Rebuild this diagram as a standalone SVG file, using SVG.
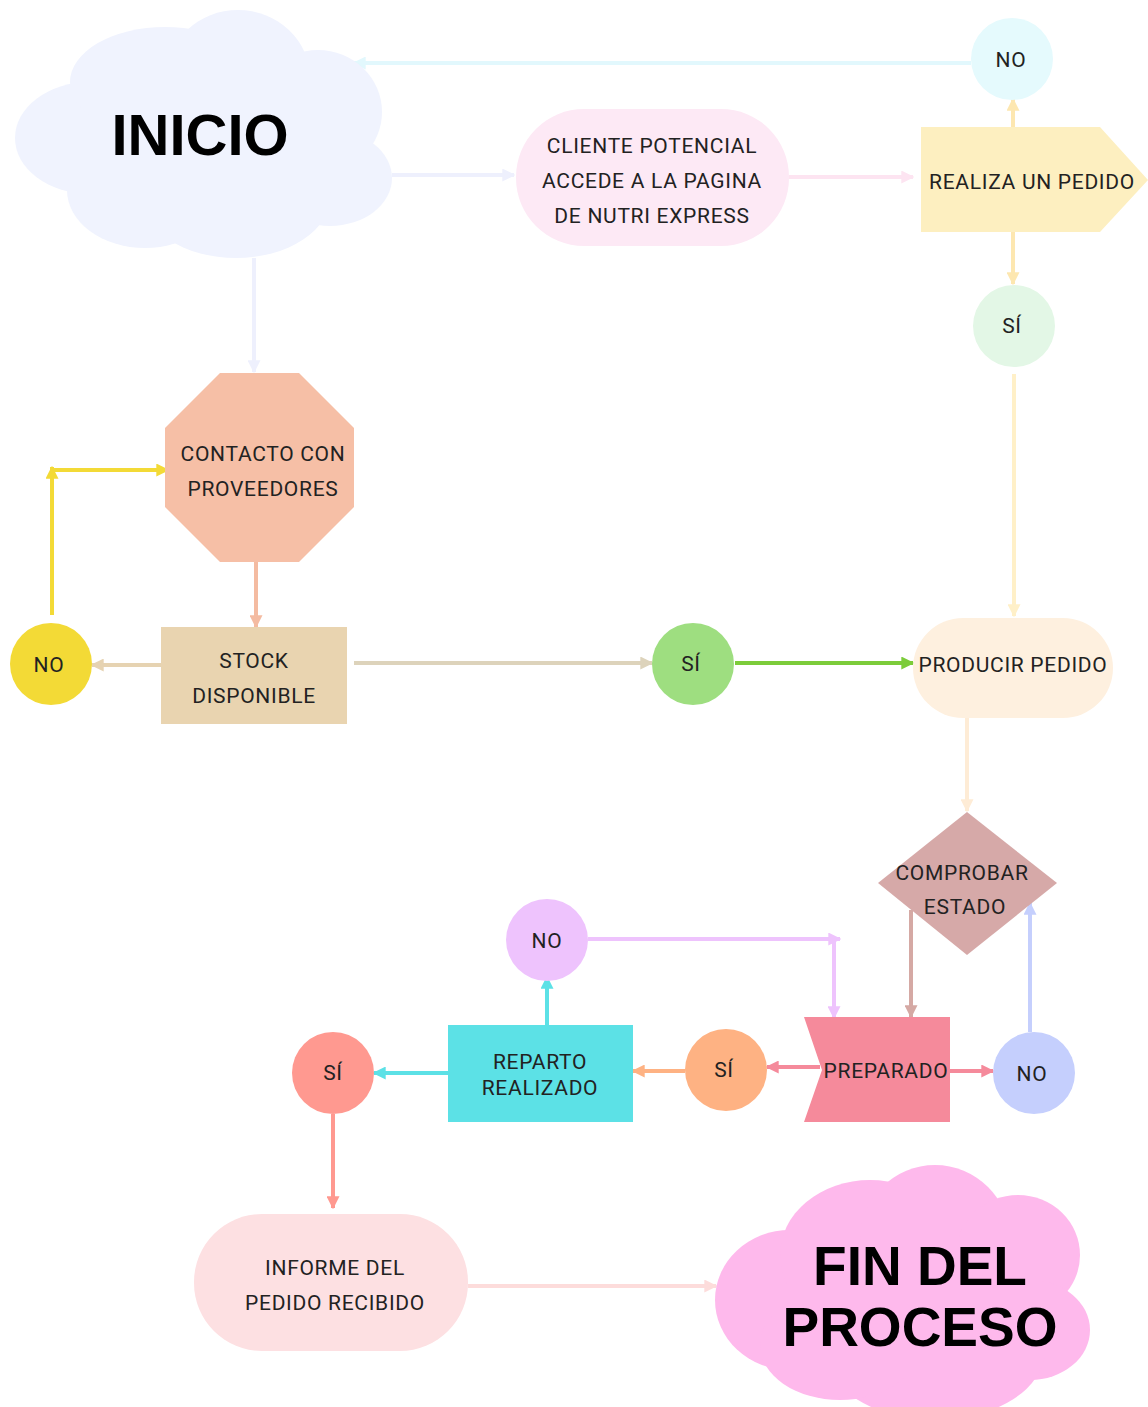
<svg xmlns="http://www.w3.org/2000/svg" width="1148" height="1407" viewBox="0 0 1148 1407">
<style>
.t{font-family:Roboto,"Liberation Sans",sans-serif;font-size:21px;letter-spacing:0.7px;fill:#222;text-anchor:middle;dominant-baseline:central}
.big{font-family:"Liberation Sans",Arial,sans-serif;font-weight:bold;fill:#000;text-anchor:middle}
.c{fill:none;stroke-width:4}
</style>
<defs>
<marker id="a1" viewBox="0 0 10 10" refX="9" refY="5" markerWidth="13" markerHeight="13" markerUnits="userSpaceOnUse" orient="auto"><path d="M0,0 L10,5 L0,10 z" fill="#eef0fd"/></marker>
<marker id="a2" viewBox="0 0 10 10" refX="9" refY="5" markerWidth="13" markerHeight="13" markerUnits="userSpaceOnUse" orient="auto"><path d="M0,0 L10,5 L0,10 z" fill="#fde4f1"/></marker>
<marker id="a3" viewBox="0 0 10 10" refX="9" refY="5" markerWidth="13" markerHeight="13" markerUnits="userSpaceOnUse" orient="auto"><path d="M0,0 L10,5 L0,10 z" fill="#fde7b0"/></marker>
<marker id="a4" viewBox="0 0 10 10" refX="9" refY="5" markerWidth="13" markerHeight="13" markerUnits="userSpaceOnUse" orient="auto"><path d="M0,0 L10,5 L0,10 z" fill="#e2f8fd"/></marker>
<marker id="a5" viewBox="0 0 10 10" refX="9" refY="5" markerWidth="13" markerHeight="13" markerUnits="userSpaceOnUse" orient="auto"><path d="M0,0 L10,5 L0,10 z" fill="#fff0c8"/></marker>
<marker id="a6" viewBox="0 0 10 10" refX="9" refY="5" markerWidth="13" markerHeight="13" markerUnits="userSpaceOnUse" orient="auto"><path d="M0,0 L10,5 L0,10 z" fill="#f4bba1"/></marker>
<marker id="a7" viewBox="0 0 10 10" refX="9" refY="5" markerWidth="13" markerHeight="13" markerUnits="userSpaceOnUse" orient="auto"><path d="M0,0 L10,5 L0,10 z" fill="#e6d3b2"/></marker>
<marker id="a8" viewBox="0 0 10 10" refX="9" refY="5" markerWidth="13" markerHeight="13" markerUnits="userSpaceOnUse" orient="auto"><path d="M0,0 L10,5 L0,10 z" fill="#f3da36"/></marker>
<marker id="a9" viewBox="0 0 10 10" refX="9" refY="5" markerWidth="13" markerHeight="13" markerUnits="userSpaceOnUse" orient="auto"><path d="M0,0 L10,5 L0,10 z" fill="#ddd3bb"/></marker>
<marker id="a10" viewBox="0 0 10 10" refX="9" refY="5" markerWidth="13" markerHeight="13" markerUnits="userSpaceOnUse" orient="auto"><path d="M0,0 L10,5 L0,10 z" fill="#7ccc3a"/></marker>
<marker id="a11" viewBox="0 0 10 10" refX="9" refY="5" markerWidth="13" markerHeight="13" markerUnits="userSpaceOnUse" orient="auto"><path d="M0,0 L10,5 L0,10 z" fill="#feecd6"/></marker>
<marker id="a12" viewBox="0 0 10 10" refX="9" refY="5" markerWidth="13" markerHeight="13" markerUnits="userSpaceOnUse" orient="auto"><path d="M0,0 L10,5 L0,10 z" fill="#d5a9a4"/></marker>
<marker id="a13" viewBox="0 0 10 10" refX="9" refY="5" markerWidth="13" markerHeight="13" markerUnits="userSpaceOnUse" orient="auto"><path d="M0,0 L10,5 L0,10 z" fill="#f58a9b"/></marker>
<marker id="a14" viewBox="0 0 10 10" refX="9" refY="5" markerWidth="13" markerHeight="13" markerUnits="userSpaceOnUse" orient="auto"><path d="M0,0 L10,5 L0,10 z" fill="#c5cffd"/></marker>
<marker id="a15" viewBox="0 0 10 10" refX="9" refY="5" markerWidth="13" markerHeight="13" markerUnits="userSpaceOnUse" orient="auto"><path d="M0,0 L10,5 L0,10 z" fill="#feb283"/></marker>
<marker id="a16" viewBox="0 0 10 10" refX="9" refY="5" markerWidth="13" markerHeight="13" markerUnits="userSpaceOnUse" orient="auto"><path d="M0,0 L10,5 L0,10 z" fill="#5ce1e6"/></marker>
<marker id="a17" viewBox="0 0 10 10" refX="9" refY="5" markerWidth="13" markerHeight="13" markerUnits="userSpaceOnUse" orient="auto"><path d="M0,0 L10,5 L0,10 z" fill="#eec3fd"/></marker>
<marker id="a18" viewBox="0 0 10 10" refX="9" refY="5" markerWidth="13" markerHeight="13" markerUnits="userSpaceOnUse" orient="auto"><path d="M0,0 L10,5 L0,10 z" fill="#ff9990"/></marker>
<marker id="a19" viewBox="0 0 10 10" refX="9" refY="5" markerWidth="13" markerHeight="13" markerUnits="userSpaceOnUse" orient="auto"><path d="M0,0 L10,5 L0,10 z" fill="#fddcdb"/></marker>
</defs>
<rect width="1148" height="1407" fill="#ffffff"/>

<g id="connectors">
<line class="c" x1="392" y1="175" x2="514" y2="175" stroke="#eef0fd" marker-end="url(#a1)"/>
<line class="c" x1="789" y1="177" x2="913" y2="177" stroke="#fde4f1" marker-end="url(#a2)"/>
<line class="c" x1="1013" y1="127" x2="1013" y2="99" stroke="#fde7b0" marker-end="url(#a3)"/>
<line class="c" x1="971" y1="63" x2="354" y2="63" stroke="#e2f8fd" marker-end="url(#a4)"/>
<line class="c" x1="1013" y1="232" x2="1013" y2="284" stroke="#fde7b0" marker-end="url(#a3)"/>
<line class="c" x1="1014" y1="374" x2="1014" y2="616" stroke="#fff0c8" marker-end="url(#a5)"/>
<line class="c" x1="254" y1="258" x2="254" y2="372" stroke="#eef0fd" marker-end="url(#a1)"/>
<line class="c" x1="256" y1="562" x2="256" y2="627" stroke="#f4bba1" marker-end="url(#a6)"/>
<line class="c" x1="161" y1="665" x2="92" y2="665" stroke="#e6d3b2" marker-end="url(#a7)"/>
<line class="c" x1="52" y1="615" x2="52" y2="467" stroke="#f3da36" marker-end="url(#a8)"/>
<line class="c" x1="50" y1="470" x2="168" y2="470" stroke="#f3da36" marker-end="url(#a8)"/>
<line class="c" x1="354" y1="663" x2="652" y2="663" stroke="#ddd3bb" marker-end="url(#a9)"/>
<line class="c" x1="735" y1="663" x2="913" y2="663" stroke="#7ccc3a" marker-end="url(#a10)"/>
<line class="c" x1="967" y1="718" x2="967" y2="811" stroke="#feecd6" marker-end="url(#a11)"/>
<line class="c" x1="911" y1="910" x2="911" y2="1017" stroke="#d5a9a4" marker-end="url(#a12)"/>
<line class="c" x1="950" y1="1071" x2="993" y2="1071" stroke="#f58a9b" marker-end="url(#a13)"/>
<line class="c" x1="1030" y1="1032" x2="1030" y2="903" stroke="#c5cffd" marker-end="url(#a14)"/>
<line class="c" x1="820" y1="1067" x2="767" y2="1067" stroke="#f58a9b" marker-end="url(#a13)"/>
<line class="c" x1="685" y1="1071" x2="633" y2="1071" stroke="#feb283" marker-end="url(#a15)"/>
<line class="c" x1="547" y1="1025" x2="547" y2="977" stroke="#5ce1e6" marker-end="url(#a16)"/>
<line class="c" x1="588" y1="939" x2="840" y2="939" stroke="#eec3fd" marker-end="url(#a17)"/>
<line class="c" x1="834" y1="939" x2="834" y2="1018" stroke="#eec3fd" marker-end="url(#a17)"/>
<line class="c" x1="448" y1="1073" x2="374" y2="1073" stroke="#5ce1e6" marker-end="url(#a16)"/>
<line class="c" x1="333" y1="1114" x2="333" y2="1208" stroke="#ff9990" marker-end="url(#a18)"/>
<line class="c" x1="468" y1="1286" x2="716" y2="1286" stroke="#fddcdb" marker-end="url(#a19)"/>
</g>

<g id="inicio">
<g fill="#f0f3fe">
<ellipse cx="90" cy="138" rx="75" ry="56"/>
<ellipse cx="165" cy="82" rx="95" ry="55"/>
<ellipse cx="238" cy="78" rx="72" ry="68"/>
<ellipse cx="318" cy="112" rx="64" ry="62"/>
<ellipse cx="330" cy="178" rx="62" ry="48"/>
<ellipse cx="236" cy="195" rx="95" ry="63"/>
<ellipse cx="145" cy="190" rx="78" ry="58"/>
<rect x="90" y="80" width="240" height="120"/>
</g>
<text class="big" x="200" y="155" font-size="58">INICIO</text>
</g>

<g id="cliente">
<rect x="516" y="109" width="273" height="137" rx="68" ry="68" fill="#fde9f5"/>
<text class="t" x="652" y="146">CLIENTE POTENCIAL</text>
<text class="t" x="652" y="181">ACCEDE A LA PAGINA</text>
<text class="t" x="652" y="216">DE NUTRI EXPRESS</text>
</g>

<g id="realiza">
<polygon points="921,127 1100,127 1148,180 1100,232 921,232" fill="#fdefc0"/>
<text class="t" x="1032" y="182">REALIZA UN PEDIDO</text>
</g>

<g id="no-top">
<circle cx="1012" cy="59" r="41" fill="#e5fafd"/>
<text class="t" x="1011" y="60">NO</text>
</g>

<g id="si-top">
<circle cx="1014" cy="326" r="41" fill="#e3f7e6"/>
<text class="t" x="1012" y="326">SÍ</text>
</g>

<g id="contacto">
<polygon points="220,373 299,373 354,428 354,507 299,562 220,562 165,507 165,428" fill="#f6bfa6"/>
<text class="t" x="263" y="454">CONTACTO CON</text>
<text class="t" x="263" y="489">PROVEEDORES</text>
</g>

<g id="stock">
<rect x="161" y="627" width="186" height="97" fill="#e9d4b0"/>
<text class="t" x="254" y="661">STOCK</text>
<text class="t" x="254" y="696">DISPONIBLE</text>
</g>

<g id="no-yellow">
<circle cx="51" cy="664" r="41" fill="#f3da36"/>
<text class="t" x="49" y="665">NO</text>
</g>

<g id="si-green">
<circle cx="693" cy="664" r="41" fill="#9ede80"/>
<text class="t" x="691" y="664">SÍ</text>
</g>

<g id="producir">
<rect x="913" y="618" width="200" height="100" rx="50" ry="50" fill="#fef0df"/>
<text class="t" x="1013" y="665">PRODUCIR PEDIDO</text>
</g>

<g id="comprobar">
<polygon points="967,812 1057,883 967,955 878,883" fill="#d6a9a8"/>
<text class="t" x="962" y="873">COMPROBAR</text>
<text class="t" x="965" y="907">ESTADO</text>
</g>

<g id="preparado">
<polygon points="804,1017 950,1017 950,1122 804,1122 822,1070" fill="#f58a9b"/>
<text class="t" x="886" y="1071">PREPARADO</text>
</g>

<g id="no-blue">
<circle cx="1034" cy="1073" r="41" fill="#c5cffd"/>
<text class="t" x="1032" y="1074">NO</text>
</g>

<g id="si-orange">
<circle cx="726" cy="1070" r="41" fill="#feb283"/>
<text class="t" x="724" y="1070">SÍ</text>
</g>

<g id="reparto">
<rect x="448" y="1025" width="185" height="97" fill="#5ce1e6"/>
<text class="t" x="540" y="1062">REPARTO</text>
<text class="t" x="540" y="1088">REALIZADO</text>
</g>

<g id="no-purple">
<circle cx="547" cy="940" r="41" fill="#eec3fd"/>
<text class="t" x="547" y="941">NO</text>
</g>

<g id="si-red">
<circle cx="333" cy="1073" r="41" fill="#ff9990"/>
<text class="t" x="333" y="1073">SÍ</text>
</g>

<g id="informe">
<rect x="194" y="1214" width="274" height="137" rx="68" ry="68" fill="#fde0e2"/>
<text class="t" x="335" y="1268">INFORME DEL</text>
<text class="t" x="335" y="1303">PEDIDO RECIBIDO</text>
</g>

<g id="fin">
<g fill="#feb9ec">
<ellipse cx="790" cy="1300" rx="75" ry="70"/>
<ellipse cx="870" cy="1255" rx="90" ry="75"/>
<ellipse cx="935" cy="1240" rx="75" ry="75"/>
<ellipse cx="1018" cy="1255" rx="62" ry="60"/>
<ellipse cx="1030" cy="1330" rx="60" ry="50"/>
<ellipse cx="935" cy="1350" rx="110" ry="70"/>
<ellipse cx="840" cy="1345" rx="80" ry="55"/>
<rect x="790" y="1240" width="250" height="130"/>
</g>
<text class="big" x="920" y="1285" font-size="55">FIN DEL</text>
<text class="big" x="920" y="1346" font-size="55">PROCESO</text>
</g>
</svg>
